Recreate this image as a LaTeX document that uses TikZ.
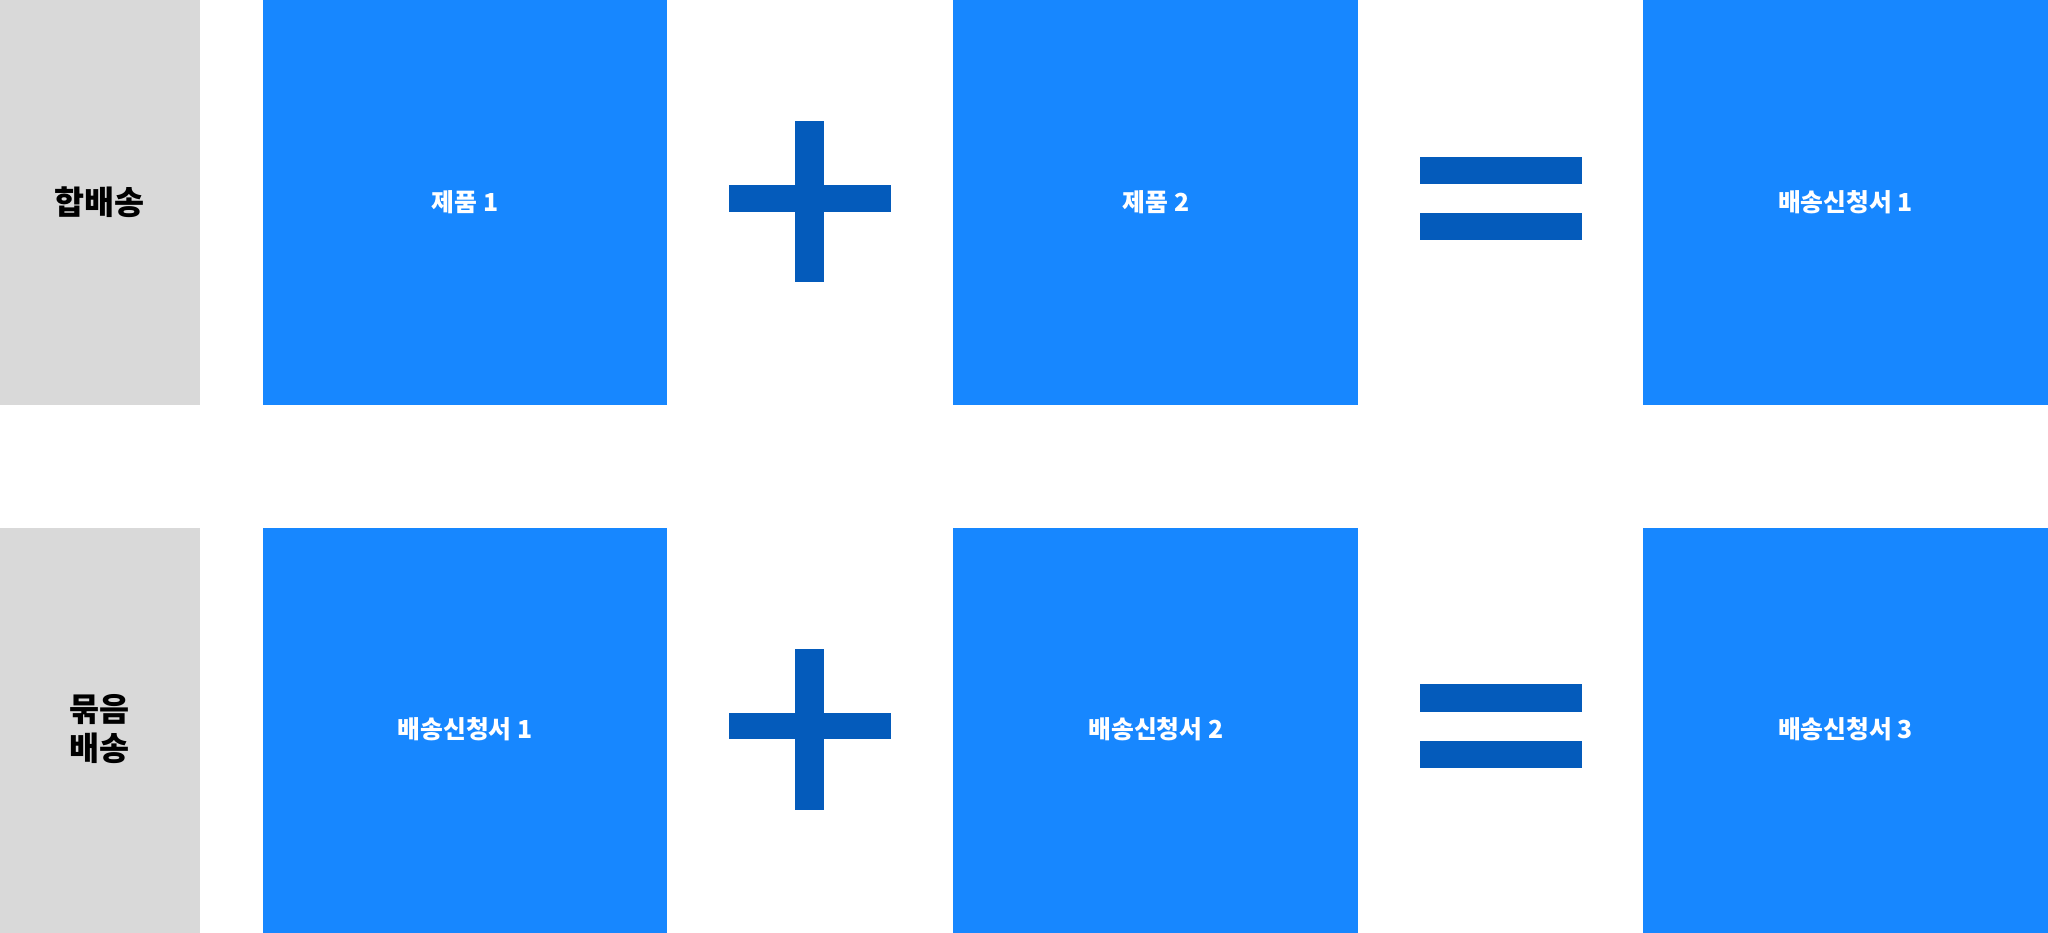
\documentclass[tikz,border=0pt]{standalone}
\usepackage{fontspec}
\newfontfamily\cjk{Noto Sans CJK KR}
\definecolor{gr}{HTML}{D9D9D9}
\definecolor{bl}{HTML}{1787FF}
\definecolor{dk}{HTML}{045BBB}
\begin{document}
\begin{tikzpicture}[x=0.5pt,y=-0.5pt,
  grbox/.style={fill=gr,draw=none},
  blbox/.style={fill=bl,draw=none},
  sym/.style={fill=dk,draw=none},
  lab/.style={text=white,font=\cjk\bfseries\fontsize{9.5}{11}\selectfont},
  side/.style={text=black,font=\cjk\bfseries\fontsize{12.5}{15}\selectfont,align=center}]
\useasboundingbox (0,0) rectangle (1568,714);
\foreach \r/\yo in {0/0,1/404}{
  \fill[grbox] (0,\yo) rectangle (153,\yo+310);
  \fill[blbox] (201,\yo) rectangle (511,\yo+310);
  \fill[blbox] (730,\yo) rectangle (1040,\yo+310);
  \fill[blbox] (1258,\yo) rectangle (1568,\yo+310);
  \fill[sym] (609,\yo+93) rectangle (631,\yo+216);
  \fill[sym] (558,\yo+142) rectangle (682,\yo+162);
  \fill[sym] (1087,\yo+120) rectangle (1211,\yo+141);
  \fill[sym] (1087,\yo+163) rectangle (1211,\yo+184);
}
\node[side] (s1) at (76.5,155) {합배송};
\node[side] (s2) at (76.5,558) {묶음\\배송};
\node[lab] (a1) at (356,155) {제품 1};
\node[lab] (a2) at (885,155) {제품 2};
\node[lab] (a3) at (1413,155) {배송신청서 1};
\node[lab] (b1) at (356,558) {배송신청서 1};
\node[lab] (b2) at (885,558) {배송신청서 2};
\node[lab] (b3) at (1413,558) {배송신청서 3};
\end{tikzpicture}
\end{document}
